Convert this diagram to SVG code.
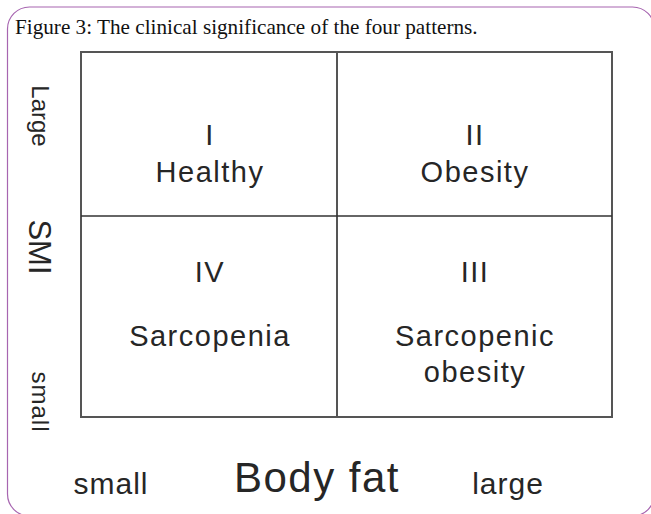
<svg xmlns="http://www.w3.org/2000/svg" width="651" height="514" viewBox="0 0 651 514">
<style>
.lbl{font-family:"Liberation Sans","DejaVu Sans",sans-serif;fill:#262626;text-anchor:middle}
.q{font-size:29px;letter-spacing:1.5px}
.ax{font-size:24px}
.bx{font-size:30px;letter-spacing:1px}
.grid{stroke:#555;stroke-width:2;fill:none}
</style>
<rect x="0" y="0" width="651" height="514" fill="#fff"/>
<rect x="7.5" y="7" width="647" height="509" rx="22" ry="22" fill="none" stroke="#a765b0" stroke-width="1.2"/>
<text x="15" y="34" font-family="Liberation Serif,serif" font-size="21.2" fill="#111">Figure 3: The clinical significance of the four patterns.</text>
<g id="grid">
<rect class="grid" x="81" y="52" width="531" height="365"/>
<line class="grid" x1="337" y1="52" x2="337" y2="417"/>
<line x1="81" y1="216" x2="612" y2="216" stroke="#333" stroke-width="1.5"/>
</g>
<g id="q1"><text class="lbl q" x="210" y="145">I</text><text class="lbl q" x="210" y="182">Healthy</text></g>
<g id="q2"><text class="lbl q" x="475" y="145">II</text><text class="lbl q" x="475" y="182">Obesity</text></g>
<g id="q4"><text class="lbl q" x="210" y="282">IV</text><text class="lbl q" x="210" y="346">Sarcopenia</text></g>
<g id="q3"><text class="lbl q" x="475" y="282">III</text><text class="lbl q" x="475" y="346">Sarcopenic</text><text class="lbl q" x="475" y="382">obesity</text></g>
<g id="yaxis">
<text class="lbl ax" transform="translate(32,116) rotate(90)">Large</text>
<text class="lbl" font-size="31" transform="translate(29,247) rotate(90)">SMI</text>
<text class="lbl ax" letter-spacing="1" transform="translate(32,402) rotate(90)">small</text>
</g>
<g id="xaxis">
<text class="lbl bx" x="111" y="494">small</text>
<text class="lbl" font-size="42" letter-spacing="1.5" x="317" y="492">Body fat</text>
<text class="lbl bx" x="508" y="494">large</text>
</g>
</svg>
